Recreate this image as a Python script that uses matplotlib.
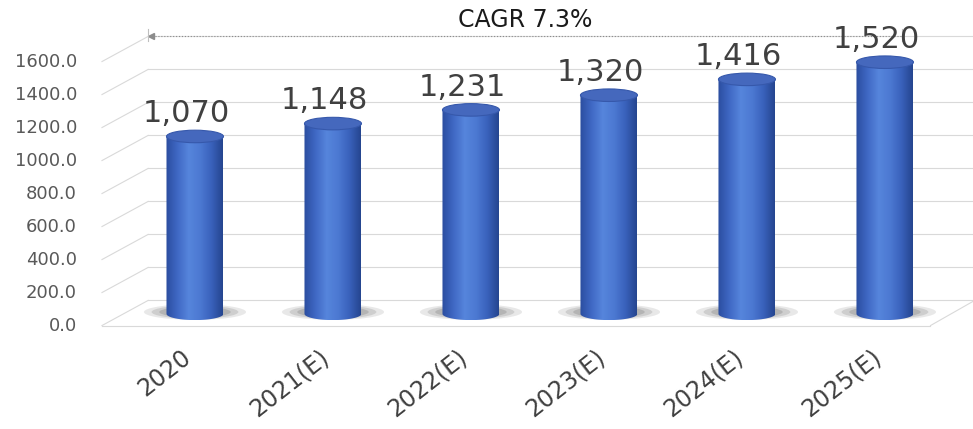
import numpy as np
import matplotlib.pyplot as plt
from matplotlib.colors import LinearSegmentedColormap
from matplotlib.patches import Ellipse, Polygon

years = ["2020", "2021(E)", "2022(E)", "2023(E)", "2024(E)", "2025(E)"]
values = [1070, 1148, 1231, 1320, 1416, 1520]
value_labels = ["1,070", "1,148", "1,231", "1,320", "1,416", "1,520"]
yticks = [0, 200, 400, 600, 800, 1000, 1200, 1400, 1600]
cagr_text = "CAGR 7.3%"

# pseudo 3D geometry (data units)
dx, dy = 0.167, 76        # half depth offset (back = +, front = -)
bw = 0.413                # cylinder width
eh = 76                   # ellipse height
x_left_front = -0.674
x_right = 5.65

fig = plt.figure(figsize=(9.73, 4.29), dpi=100)
ax = fig.add_axes([0, 0, 1, 1])
ax.axis("off")

grid_c = "#d9d9d9"
for t in yticks:
    # back wall gridline
    ax.plot([x_left_front + 2 * dx, x_right], [t + dy, t + dy], color=grid_c, lw=0.8, zorder=1)
    # side wall slant
    ax.plot([x_left_front, x_left_front + 2 * dx], [t - dy, t + dy], color=grid_c, lw=0.8, zorder=1)
    ax.text(-0.855, t - dy, f"{t:.1f}", ha="right", va="center", fontsize=13,
            color="#595959")

# floor front edge
ax.plot([x_left_front, 5.33], [-dy, -dy], color=grid_c, lw=0.8, zorder=1)
ax.plot([5.33, x_right], [-dy, dy], color=grid_c, lw=0.8, zorder=1)

cmap = LinearSegmentedColormap.from_list(
    "cyl", ["#2b4d9f", "#3f68c4", "#5685dc", "#4c79d2", "#3961bb", "#25458f"])
grad = np.linspace(0, 1, 256).reshape(1, -1)

for i, (v, lab) in enumerate(zip(values, value_labels)):
    # shadow
    for k, a in zip([1.0, 0.85, 0.7, 0.55], [0.15, 0.2, 0.25, 0.35]):
        ax.add_patch(Ellipse((i, 6), 0.74 * k, 95 * k,
                             color="#6a6a6a", alpha=a, lw=0, zorder=2))
    th = np.linspace(np.pi, 2 * np.pi, 40)
    pts = [(i - bw / 2, v)] + [(i + bw / 2 * np.cos(a), -5 + eh / 2 * np.sin(a)) for a in th] + [(i + bw / 2, v)]
    body = Polygon(pts, closed=True, facecolor="none", edgecolor="none")
    ax.add_patch(body)
    im = ax.imshow(grad, cmap=cmap, extent=[i - bw / 2, i + bw / 2, -5 - eh / 2, v],
                   aspect="auto", zorder=3, interpolation="bilinear")
    im.set_clip_path(body)
    ax.add_patch(Ellipse((i, v), bw, eh, facecolor="#4568bd", edgecolor="#3658ab",
                         lw=0.8, zorder=4))
    ax.text(i - 0.06, v + 50, lab, ha="center", va="bottom", fontsize=22,
            color="#404040", zorder=5)
    ax.text(i - 0.1, -194, years[i], ha="right", va="top", rotation=38,
            rotation_mode="anchor", fontsize=17, color="#404040")

ax.set_xlim(-1.413, 5.638)
ax.set_ylim(-703, 1897)

# CAGR arrow
ya = 1600 + dy
x0, x1 = x_left_front + 2 * dx, 5.123
ax.plot([x0 + 0.03, x1], [ya, ya], color="#8c8c8c", lw=0.8, ls=":", zorder=1)
ax.plot([x0 + 0.02], [ya], marker="<", ms=4, color="#8c8c8c", zorder=1)
ax.plot([x0, x0], [ya - 30, ya + 45], color="#bfbfbf", lw=0.8)
ax.plot([x1, x1], [ya - 30, ya + 45], color="#bfbfbf", lw=0.8)
ax.text((x0 + x1) / 2, ya + 30, cagr_text, ha="center", va="bottom", fontsize=17,
        color="#1a1a1a")

fig.savefig("out.png", dpi=100)
